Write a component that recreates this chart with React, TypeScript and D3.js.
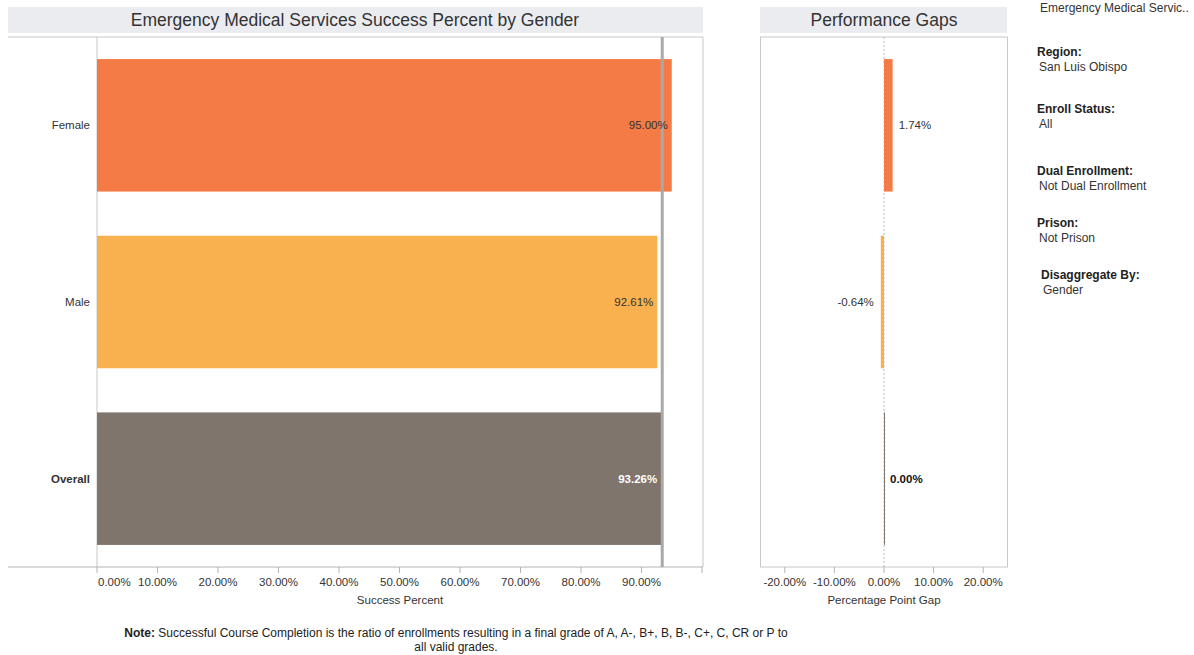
import React from "react";
import * as d3 from "d3";

const categories = ["Female", "Male", "Overall"];
const successValues = [95.0, 92.61, 93.26];
const gapValues = [1.74, -0.64, 0.0];
const barColors = ["#f47b45", "#f9b04e", "#7f756c"];
const successTicks = [0, 10, 20, 30, 40, 50, 60, 70, 80, 90];
const gapTicks = [-20, -10, 0, 10, 20];
const filters = [
  { label: "Region:", value: "San Luis Obispo", y: 52 },
  { label: "Enroll Status:", value: "All", y: 109 },
  { label: "Dual Enrollment:", value: "Not Dual Enrollment", y: 171 },
  { label: "Prison:", value: "Not Prison", y: 223 },
  { label: "Disaggregate By:", value: "Gender", y: 275 },
];

const FONT = "'Liberation Sans', Arial, Helvetica, sans-serif";
const fmt = (v: number) => (v < 0 ? "-" : "") + d3.format(".2f")(Math.abs(v)) + "%";
const FS = 11.5;

export default function App() {
  const top = 37;
  const bottom = 567;
  const y = d3.scaleBand<string>().domain(categories).range([top, bottom]).paddingInner(0.25).paddingOuter(0.125);
  const x = d3.scaleLinear().domain([0, 100]).range([97, 702]);
  const xg = d3.scaleLinear().domain([-25, 25]).range([760, 1008]);
  const overall = successValues[2];

  return (
    <svg width={1194} height={655} style={{ position: "absolute", left: 0, top: 0, background: "#fff" }} fontFamily={FONT}>
      {/* Left panel title */}
      <rect x={8} y={7} width={695} height={26} fill="#ebecf0" />
      <text x={355} y={26} textAnchor="middle" fontSize={17.5} fill="#333">
        Emergency Medical Services Success Percent by Gender
      </text>
      {/* Left frame */}
      <line x1={8} x2={703} y1={top} y2={top} stroke="#c8c8c8" />
      <line x1={97} x2={97} y1={top} y2={bottom} stroke="#c8c8c8" />
      <line x1={703} x2={703} y1={top} y2={bottom} stroke="#c8c8c8" />
      <line x1={8} x2={703} y1={bottom} y2={bottom} stroke="#b4b4b4" />

      {categories.map((c, i) => (
        <g key={c}>
          <rect
            x={x(0)}
            y={y(c)!}
            width={x(successValues[i]) - x(0)}
            height={y.bandwidth()}
            fill={barColors[i]}
          />
          <text
            x={90}
            y={y(c)! + y.bandwidth() / 2 + 4}
            textAnchor="end"
            fontSize={FS}
            fontWeight={c === "Overall" ? "bold" : "normal"}
            fill="#333"
          >
            {c}
          </text>
        </g>
      ))}
      {/* reference line */}
      <line x1={x(overall) + 1} x2={x(overall) + 1} y1={top} y2={bottom} stroke="#a9a9a9" strokeWidth={3} />
      {categories.map((c, i) => (
        <text
          key={c + "v"}
          x={x(successValues[i]) - 4}
          y={y(c)! + y.bandwidth() / 2 + 4}
          textAnchor="end"
          fontSize={FS}
          fontWeight={c === "Overall" ? "bold" : "normal"}
          fill={c === "Overall" ? "#fff" : "#333"}
        >
          {fmt(successValues[i])}
        </text>
      ))}
      {successTicks.concat([100]).map((t) => (
        <line key={"t" + t} x1={x(t)} x2={x(t)} y1={bottom} y2={bottom + 6} stroke="#b4b4b4" />
      ))}
      {successTicks.map((t) => (
        <text
          key={"l" + t}
          x={t === 0 ? x(t) + 1 : x(t)}
          y={586}
          textAnchor={t === 0 ? "start" : "middle"}
          fontSize={FS}
          fill="#333"
        >
          {fmt(t)}
        </text>
      ))}
      <text x={400} y={604} textAnchor="middle" fontSize={FS} fill="#333">
        Success Percent
      </text>

      {/* Right panel */}
      <rect x={760} y={7} width={247} height={26} fill="#ebecf0" />
      <text x={884} y={26} textAnchor="middle" fontSize={17.5} fill="#333">
        Performance Gaps
      </text>
      <rect x={760.5} y={top} width={247} height={bottom - top} fill="none" stroke="#c8c8c8" />
      <line x1={xg(0)} x2={xg(0)} y1={top} y2={bottom} stroke="#bbb" strokeDasharray="2,2" />
      {categories.map((c, i) => {
        const v = gapValues[i];
        const x0 = Math.min(xg(0), xg(v));
        const w = Math.max(Math.abs(xg(v) - xg(0)), 1);
        return (
          <g key={c + "g"}>
            <rect x={x0} y={y(c)!} width={w} height={y.bandwidth()} fill={barColors[i]} />
            <text
              x={v >= 0 ? Math.max(xg(v), xg(0)) + 6 : xg(v) - 7}
              y={y(c)! + y.bandwidth() / 2 + 4}
              textAnchor={v >= 0 ? "start" : "end"}
              fontSize={FS}
              fontWeight={c === "Overall" ? "bold" : "normal"}
              fill={c === "Overall" ? "#111" : "#333"}
            >
              {fmt(v)}
            </text>
          </g>
        );
      })}
      {gapTicks.map((t) => (
        <g key={"g" + t}>
          <line x1={xg(t)} x2={xg(t)} y1={bottom} y2={bottom + 6} stroke="#b4b4b4" />
          <text x={xg(t)} y={586} textAnchor="middle" fontSize={FS} fill="#333">
            {fmt(t)}
          </text>
        </g>
      ))}
      <text x={884} y={604} textAnchor="middle" fontSize={FS} fill="#333">
        Percentage Point Gap
      </text>

      {/* Sidebar */}
      <text x={1040} y={12} fontSize={12} fill="#333">Emergency Medical Servic..</text>
      {filters.map((f, i) => (
        <g key={f.label}>
          <text x={i === 4 ? 1041 : 1037} y={f.y + 4} fontSize={12} fontWeight="bold" fill="#222">
            {f.label}
          </text>
          <text x={i === 4 ? 1043 : 1039} y={f.y + 19} fontSize={12} fill="#333">
            {f.value}
          </text>
        </g>
      ))}

      {/* Note */}
      <text x={456} y={637} textAnchor="middle" fontSize={12} fill="#222">
        <tspan fontWeight="bold">Note:</tspan>
        <tspan> Successful Course Completion is the ratio of enrollments resulting in a final grade of A, A-, B+, B, B-, C+, C, CR or P to</tspan>
      </text>
      <text x={456} y={651} textAnchor="middle" fontSize={12} fill="#222">
        all valid grades.
      </text>
    </svg>
  );
}
